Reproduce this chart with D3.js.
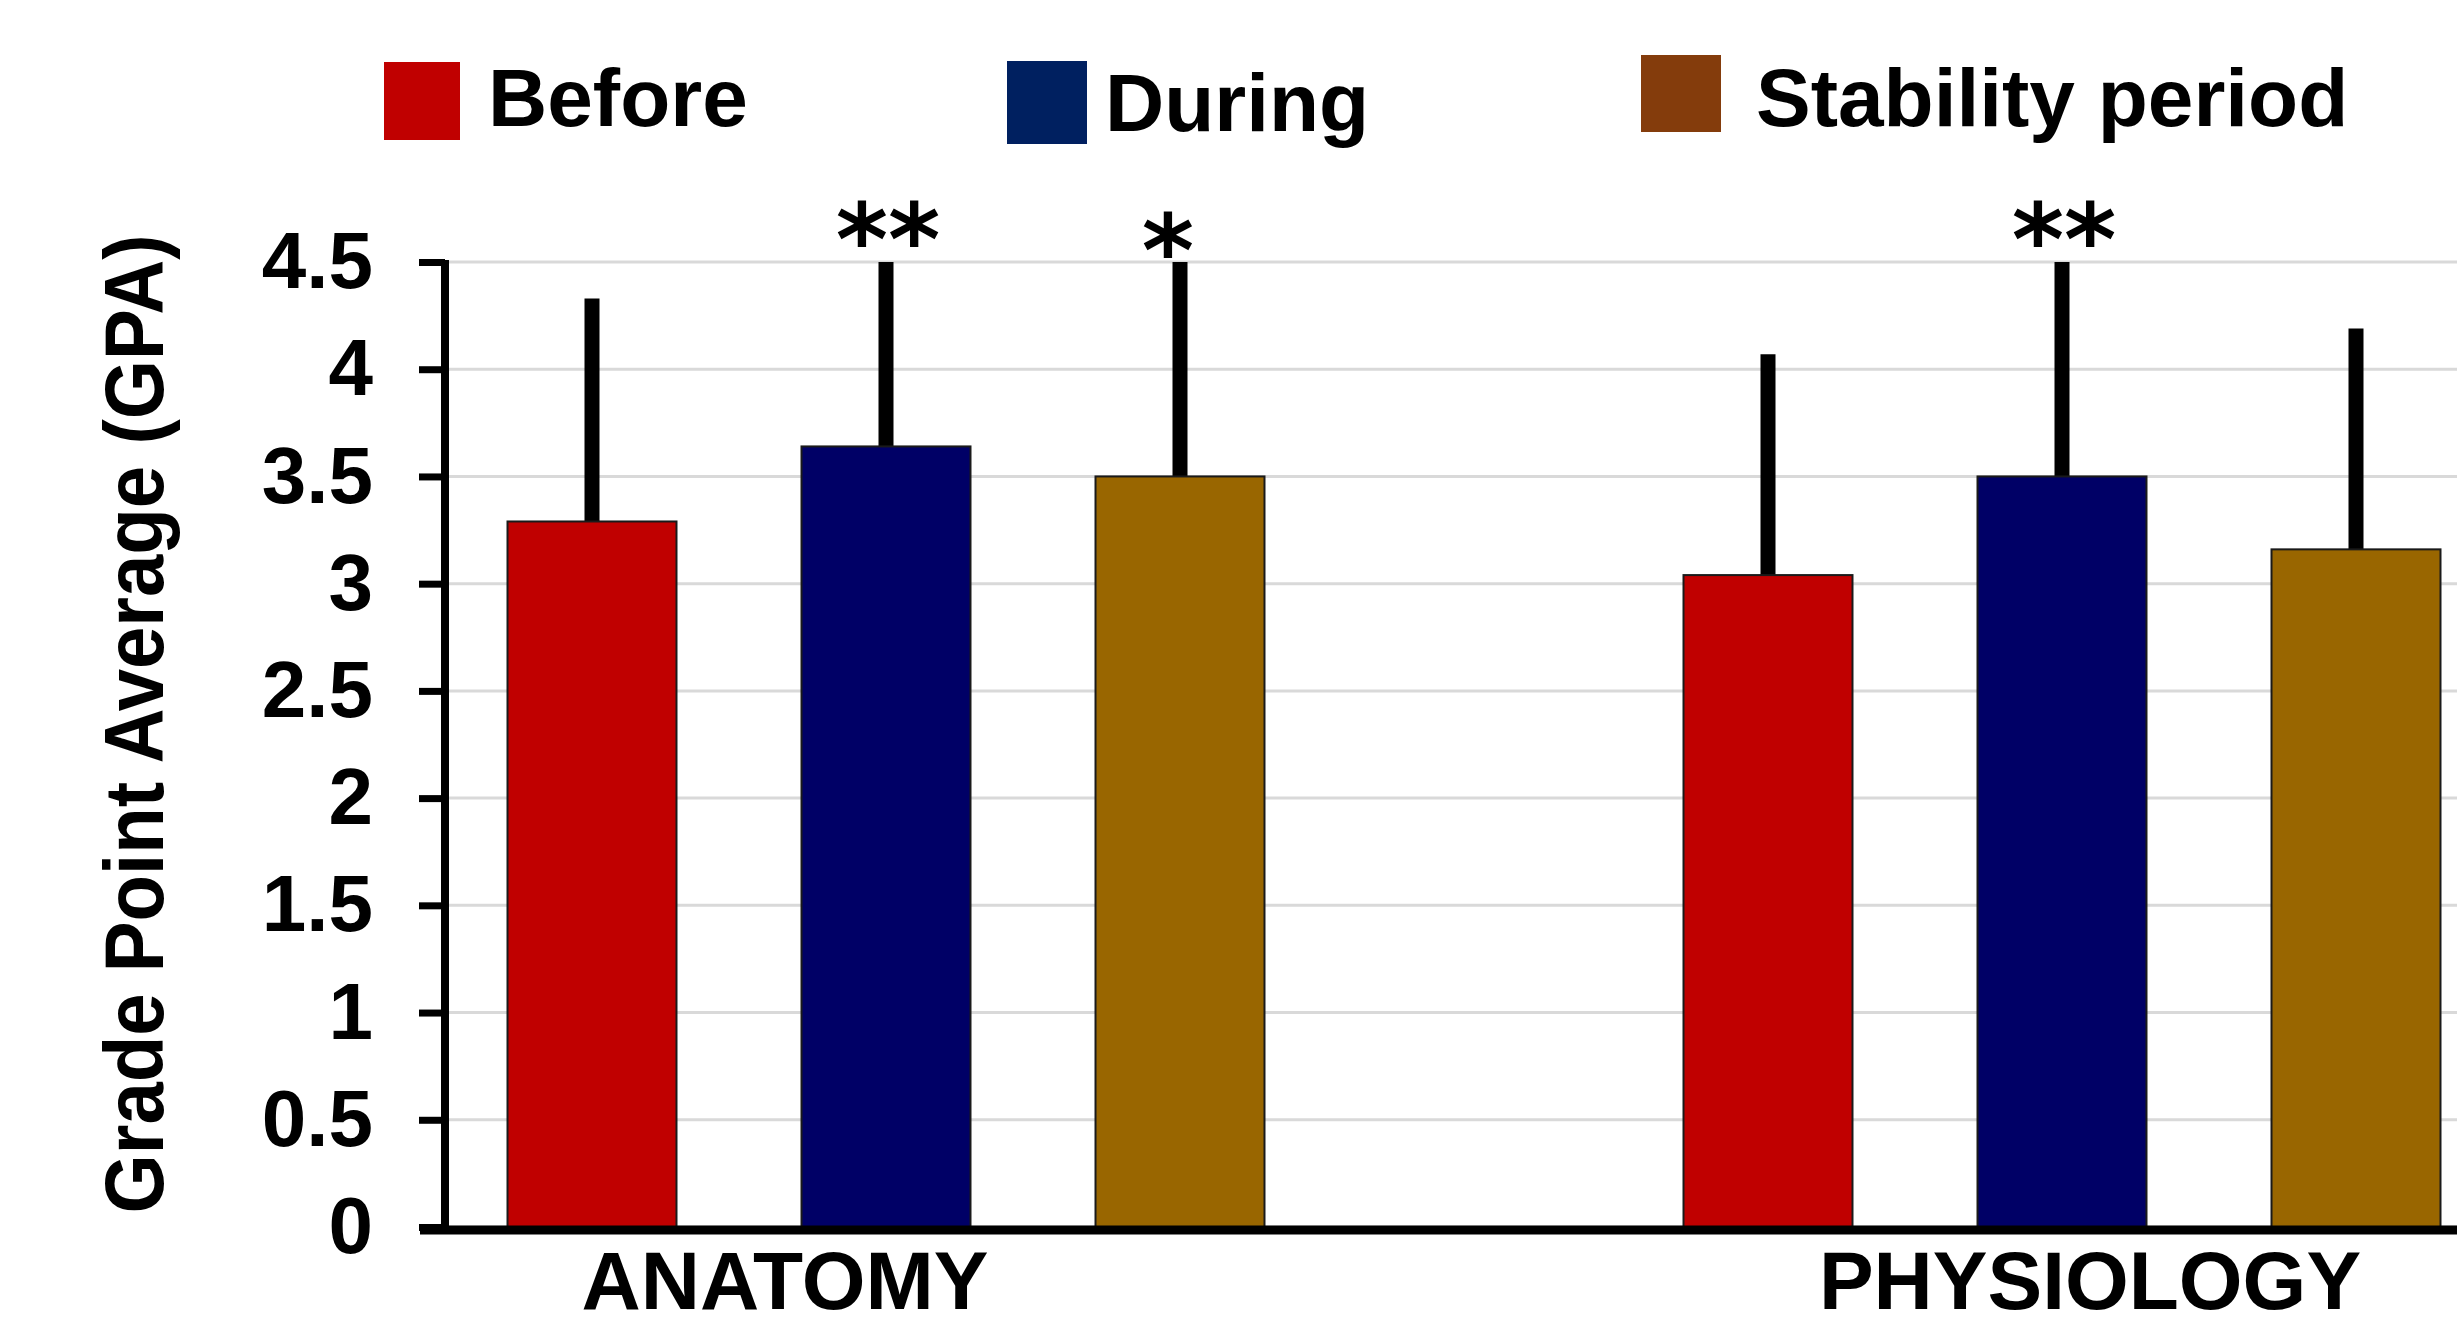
<!DOCTYPE html>
<html>
<head>
<meta charset="utf-8">
<script src="https://cdn.jsdelivr.net/npm/d3@7"></script>
<style>
  html, body { margin: 0; padding: 0; background: #fff; overflow: hidden; }
  svg { display: block; }
  text { font-family: "Liberation Sans", Arial, sans-serif; }
</style>
</head>
<body>
<svg id="chart" width="2457" height="1326"></svg>
<script>
// ---- Data ----
const categories = ["ANATOMY", "PHYSIOLOGY"];
const seriesNames = ["Before", "During", "Stability period"];
const beforeValues = [3.29, 3.04];
const duringValues = [3.64, 3.50];
const stabilityValues = [3.50, 3.16];
const beforeErrors = [1.04, 1.03];
const duringErrors = [1.00, 1.05];
const stabilityErrors = [1.05, 1.03];
const yTickValues = [0, 0.5, 1, 1.5, 2, 2.5, 3, 3.5, 4, 4.5];
const yTickLabels = ["0", "0.5", "1", "1.5", "2", "2.5", "3", "3.5", "4", "4.5"];
const significance = [
  { category: "ANATOMY", series: "During", label: "**" },
  { category: "ANATOMY", series: "Stability period", label: "*" },
  { category: "PHYSIOLOGY", series: "During", label: "**" }
];

// ---- Styles / layout ----
const barColors = { "Before": "#C00000", "During": "#000066", "Stability period": "#996600" };
const legendColors = { "Before": "#C00000", "During": "#002060", "Stability period": "#843C0C" };
const legendLayout = [
  { x: 384, y: 62, w: 76, h: 78, tx: 488, ty: 126 },
  { x: 1007, y: 61, w: 80, h: 83, tx: 1105, ty: 131 },
  { x: 1641, y: 55, w: 80, h: 77, tx: 1756, ty: 126 }
];

const valuesBySeries = [beforeValues, duringValues, stabilityValues];
const errorsBySeries = [beforeErrors, duringErrors, stabilityErrors];
const rows = [];
categories.forEach((c, ci) => {
  seriesNames.forEach((s, si) => {
    rows.push({ category: c, series: s, value: valuesBySeries[si][ci], err: errorsBySeries[si][ci] });
  });
});

const svg = d3.select("#chart");
const yMax = 4.5;
const y = d3.scaleLinear().domain([0, yMax]).range([1227, 262]);
const x0 = d3.scaleBand().domain(categories).range([445, 2503]).paddingInner(0.25).paddingOuter(0);
const x1 = d3.scaleBand().domain(seriesNames).range([0, x0.bandwidth()]).paddingInner(0.4252).paddingOuter(0.2126);

// gridlines
svg.append("g").selectAll("line").data(yTickValues).join("line")
  .attr("x1", 445).attr("x2", 2457)
  .attr("y1", d => y(d)).attr("y2", d => y(d))
  .attr("stroke", "#d9d9d9").attr("stroke-width", 3);

// error bars (behind bars)
svg.append("g").selectAll("line").data(rows).join("line")
  .attr("x1", d => x0(d.category) + x1(d.series) + x1.bandwidth() / 2)
  .attr("x2", d => x0(d.category) + x1(d.series) + x1.bandwidth() / 2)
  .attr("y1", d => y(d.value))
  .attr("y2", d => y(Math.min(yMax, d.value + d.err)))
  .attr("stroke", "#000").attr("stroke-width", 15);

// bars
svg.append("g").selectAll("rect").data(rows).join("rect")
  .attr("x", d => x0(d.category) + x1(d.series))
  .attr("y", d => y(d.value))
  .attr("width", x1.bandwidth())
  .attr("height", d => y(0) - y(d.value))
  .attr("fill", d => barColors[d.series])
  .attr("stroke", "#1a1a1a").attr("stroke-width", 2);

// y axis
const yAxis = d3.axisLeft(y).tickValues(yTickValues)
  .tickFormat((d, i) => yTickLabels[i]).tickSize(26).tickPadding(46);
const gy = svg.append("g").attr("transform", "translate(445,0)").call(yAxis);
gy.select(".domain").remove();
gy.selectAll(".tick line").attr("stroke", "#000").attr("stroke-width", 7);
gy.selectAll(".tick text").attr("fill", "#000")
  .style("font-family", "'Liberation Sans', Arial, sans-serif")
  .style("font-size", "80px").style("font-weight", "bold")
  .attr("textLength", null);
svg.append("line").attr("x1", 445).attr("x2", 445).attr("y1", y(yMax) - 2).attr("y2", y(0) + 6)
  .attr("stroke", "#000").attr("stroke-width", 8);

// x axis baseline
svg.append("line").attr("x1", 420).attr("x2", 2457).attr("y1", y(0) + 3).attr("y2", y(0) + 3)
  .attr("stroke", "#000").attr("stroke-width", 9);

// category labels
const catOffsets = { "ANATOMY": -101, "PHYSIOLOGY": 28 };
svg.append("g").selectAll("text").data(categories).join("text")
  .attr("x", d => x0(d) + x0.bandwidth() / 2 + catOffsets[d])
  .attr("y", 1309)
  .attr("text-anchor", "middle")
  .style("font-size", "82px").style("font-weight", "bold")
  .text(d => d);

// y axis title
svg.append("text")
  .attr("transform", "translate(163,724) rotate(-90)")
  .attr("text-anchor", "middle")
  .attr("textLength", 979).attr("lengthAdjust", "spacingAndGlyphs")
  .style("font-size", "84px").style("font-weight", "bold")
  .text("Grade Point Average (GPA)");

// significance stars
svg.append("g").selectAll("text").data(significance).join("text")
  .attr("x", d => x0(d.category) + x1(d.series) + x1.bandwidth() / 2 + (d.label === "*" ? -12 : 2))
  .attr("y", d => y(yMax) + (d.label === "*" ? 24 : 13))
  .attr("text-anchor", "middle")
  .style("font-family", "'DejaVu Sans', sans-serif")
  .style("font-size", "100px").style("font-weight", "bold")
  .text(d => d.label);

// legend
const lg = svg.append("g");
seriesNames.forEach((s, i) => {
  const L = legendLayout[i];
  lg.append("rect").attr("x", L.x).attr("y", L.y).attr("width", L.w).attr("height", L.h)
    .attr("fill", legendColors[s]);
  lg.append("text").attr("x", L.tx).attr("y", L.ty)
    .style("font-size", "82px").style("font-weight", "bold").text(s);
});
</script>
</body>
</html>
